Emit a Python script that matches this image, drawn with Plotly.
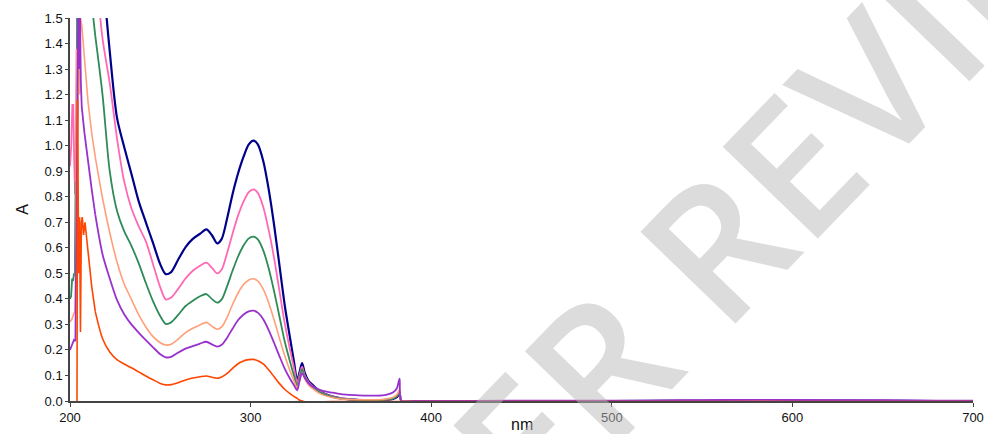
import plotly.graph_objects as go

# ---- wavelength grid (nm) for the main part of every spectrum ----
wl_main = [214, 218, 222, 226, 230, 234, 238, 242, 246, 250,
           253, 256, 260, 264, 268, 272, 275.5, 278.5, 281.5, 284,
           287, 290, 293, 296, 299, 301.5, 304, 307, 310, 313,
           316, 319, 322, 324, 325.8, 327, 328.5, 330, 332, 334,
           337, 340, 345, 350, 355, 360, 365, 370, 375, 379,
           381, 382.5, 383.5, 390, 450, 500, 540, 560, 600, 650,
           680, 700]

# ---- noisy short-wavelength starts (nm, A) ----
wl_left_navy = [212]
a_left_navy = [2.6]
wl_left_pink = [200, 200.7, 201.3, 201.8, 202.3, 202.8, 203.3, 203.7, 204.2, 204.7, 205.5, 208, 211]
a_left_pink = [0.92, 1.0, 1.16, 1.16, 0.95, 0.81, 1.0, 1.38, 1.1, 1.6, 2.4, 2.5, 2.1]
wl_left_green = [200, 200.6, 201.2, 201.7, 202.2, 202.7, 203.1, 203.5, 204.0, 206, 209, 212.9]
a_left_green = [0.40, 0.41, 0.48, 0.47, 0.50, 0.49, 0.86, 0.6, 1.7, 2.5, 2.0, 1.5]
wl_left_salmon = [200, 201, 202, 202.7, 203.2, 203.7, 204.2, 204.7, 205.3, 205.8, 206.5, 208.3, 210, 212]
a_left_salmon = [0.31, 0.32, 0.34, 0.35, 0.55, 1.38, 0.9, 1.48, 1.2, 1.5, 1.473, 1.31, 1.17, 1.05]
wl_left_purple = [200, 201, 202.2, 203, 203.5, 204, 204.5, 205, 205.5, 206, 206.5, 208, 210, 212]
a_left_purple = [0.2, 0.215, 0.239, 0.235, 0.6, 1.15, 1.5, 1.3, 1.55, 1.25, 1.153, 1.05, 0.93, 0.83]
wl_left_orange = [203.8, 204.2, 204.8, 205.3, 205.8, 206.3, 206.8, 207.5, 208.3, 210, 212]
a_left_orange = [-0.3, 1.18, 0.5, 0.72, 0.27, 0.70, 0.72, 0.65, 0.70, 0.58, 0.45]

# ---- absorbance values on wl_main ----
a_navy = [2.2, 1.7, 1.37, 1.11, 0.995, 0.89, 0.783, 0.70, 0.618, 0.535,
          0.497, 0.505, 0.555, 0.603, 0.635, 0.655, 0.672, 0.65, 0.617, 0.635,
          0.715, 0.81, 0.89, 0.955, 1.005, 1.02, 1.005, 0.94, 0.83, 0.69,
          0.53, 0.37, 0.24, 0.155, 0.08, 0.11, 0.148, 0.11, 0.08, 0.065,
          0.045, 0.031, 0.018, 0.01, 0.006, 0.004, 0.003, 0.003, 0.004, 0.008,
          0.015, 0.03, 0.0, 0.0, 0.0, 0.0, 0.001, 0.001, 0.001, 0.001,
          0.0, 0.0]
a_pink = [1.72, 1.42, 1.245, 1.03, 0.86, 0.755, 0.685, 0.625, 0.535, 0.445,
          0.398, 0.405, 0.44, 0.48, 0.51, 0.53, 0.542, 0.522, 0.50, 0.515,
          0.58, 0.655, 0.725, 0.78, 0.818, 0.829, 0.815, 0.76, 0.67, 0.56,
          0.43, 0.30, 0.195, 0.13, 0.072, 0.1, 0.135, 0.1, 0.075, 0.06,
          0.043, 0.03, 0.018, 0.011, 0.007, 0.005, 0.004, 0.004, 0.005, 0.01,
          0.02, 0.035, 0.0, 0.0, 0.0, 0.0, 0.001, 0.001, 0.001, 0.001,
          0.0, 0.0]
a_green = [1.43, 1.2, 0.9, 0.745, 0.665, 0.608, 0.54, 0.462, 0.39, 0.332,
           0.302, 0.308, 0.338, 0.372, 0.393, 0.41, 0.419, 0.40, 0.385, 0.398,
           0.45, 0.51, 0.565, 0.608, 0.637, 0.644, 0.633, 0.59, 0.52, 0.43,
           0.33, 0.23, 0.15, 0.1, 0.058, 0.09, 0.125, 0.095, 0.07, 0.057,
           0.04, 0.028, 0.016, 0.009, 0.006, 0.004, 0.003, 0.003, 0.005, 0.01,
           0.02, 0.035, 0.0, 0.0, 0.0, 0.0, 0.001, 0.001, 0.001, 0.001,
           0.0, 0.0]
a_salmon = [0.955, 0.795, 0.66, 0.545, 0.458, 0.398, 0.338, 0.29, 0.252, 0.228,
            0.219, 0.222, 0.243, 0.268, 0.285, 0.298, 0.308, 0.293, 0.281, 0.29,
            0.328, 0.378, 0.422, 0.455, 0.474, 0.479, 0.47, 0.438, 0.385, 0.318,
            0.245, 0.175, 0.115, 0.08, 0.05, 0.08, 0.112, 0.088, 0.064, 0.05,
            0.035, 0.024, 0.014, 0.008, 0.006, 0.005, 0.005, 0.005, 0.008, 0.015,
            0.025, 0.045, 0.0, 0.0, 0.0, 0.0, 0.001, 0.001, 0.001, 0.001,
            0.0, 0.0]
a_purple = [0.73, 0.575, 0.48, 0.396, 0.34, 0.30, 0.268, 0.238, 0.21, 0.183,
            0.171, 0.173, 0.19, 0.205, 0.215, 0.225, 0.232, 0.222, 0.213, 0.22,
            0.248, 0.283, 0.316, 0.338, 0.351, 0.354, 0.346, 0.32, 0.278, 0.228,
            0.175, 0.125, 0.085, 0.062, 0.042, 0.075, 0.11, 0.09, 0.07, 0.058,
            0.048, 0.04, 0.033, 0.027, 0.024, 0.022, 0.021, 0.021, 0.024, 0.034,
            0.05, 0.088, 0.0, 0.0, 0.001, 0.001, 0.003, 0.004, 0.004, 0.003,
            0.001, 0.001]
a_orange = [0.35, 0.245, 0.192, 0.162, 0.145, 0.13, 0.114, 0.098, 0.083, 0.069,
            0.063, 0.064, 0.072, 0.082, 0.09, 0.095, 0.098, 0.093, 0.089, 0.094,
            0.108, 0.128, 0.146, 0.157, 0.162, 0.163, 0.158, 0.145, 0.122, 0.095,
            0.068, 0.045, 0.028, 0.018, 0.01, 0.004, 0.0, -0.003, -0.004, -0.004,
            -0.004, -0.003, -0.002, -0.002, -0.002, -0.002, -0.002, -0.002, -0.002, -0.002,
            -0.002, -0.002, -0.002, -0.002, -0.002, -0.002, -0.002, -0.002, -0.002, -0.002,
            -0.002, -0.002]

series = [
    ("navy", wl_left_navy, a_left_navy, a_navy, "#00008B", 2.2),
    ("pink", wl_left_pink, a_left_pink, a_pink, "#FF69B4", 1.8),
    ("green", wl_left_green, a_left_green, a_green, "#2E8B57", 1.8),
    ("salmon", wl_left_salmon, a_left_salmon, a_salmon, "#FFA07A", 1.6),
    ("purple", wl_left_purple, a_left_purple, a_purple, "#9932CC", 1.8),
    ("orange", wl_left_orange, a_left_orange, a_orange, "#FF4500", 1.6),
]

fig = go.Figure()
for name, wl_l, a_l, a_m, col, w in series:
    # noisy start: straight segments, joined to the first smooth point
    fig.add_trace(go.Scatter(x=wl_l + wl_main[:1], y=a_l + a_m[:1], mode="lines",
                             line=dict(color=col, width=w), hoverinfo="skip"))
    # smooth main band
    fig.add_trace(go.Scatter(x=wl_main, y=a_m, mode="lines", name=name,
                             line=dict(color=col, width=w, shape="spline", smoothing=0.8),
                             hoverinfo="skip"))

tick_font = dict(family="Liberation Sans, Arial, sans-serif", size=13, color="#111")
fig.update_layout(
    width=988, height=434, autosize=False,
    margin=dict(l=70, r=15, t=18, b=33),
    plot_bgcolor="white", paper_bgcolor="white",
    showlegend=False,
    xaxis=dict(range=[200, 700], tickvals=[200, 300, 400, 500, 600, 700],
               ticks="outside", ticklen=4, tickcolor="#444", tickwidth=1,
               showline=True, linecolor="#444", linewidth=1.5, automargin=False,
               showgrid=False, zeroline=False, tickfont=tick_font),
    yaxis=dict(range=[0, 1.5], dtick=0.1, tick0=0, tickformat=".1f",
               ticks="outside", ticklen=3, tickcolor="#444", tickwidth=1,
               showline=True, linecolor="#444", linewidth=1.5, automargin=False,
               showgrid=False, zeroline=False, tickfont=tick_font),
)

fig.add_annotation(text="nm", xref="paper", yref="paper", x=0.5, y=-0.062,
                   xanchor="center", yanchor="middle", showarrow=False,
                   font=dict(family="Liberation Sans, Arial, sans-serif", size=16, color="#111"))
fig.add_annotation(text="A", xref="paper", yref="paper", x=-0.053, y=0.5,
                   xanchor="center", yanchor="middle", showarrow=False, textangle=-90,
                   font=dict(family="Liberation Sans, Arial, sans-serif", size=16, color="#111"))

# watermark
fig.add_annotation(text="PEER REVIEW", xref="paper", yref="paper", x=0.738, y=0.475,
                   xanchor="center", yanchor="middle", showarrow=False, textangle=-46,
                   font=dict(family="Open Sans, sans-serif", size=185, weight=600,
                             color="rgba(185,185,185,0.5)"))

fig.write_html("out.html")
